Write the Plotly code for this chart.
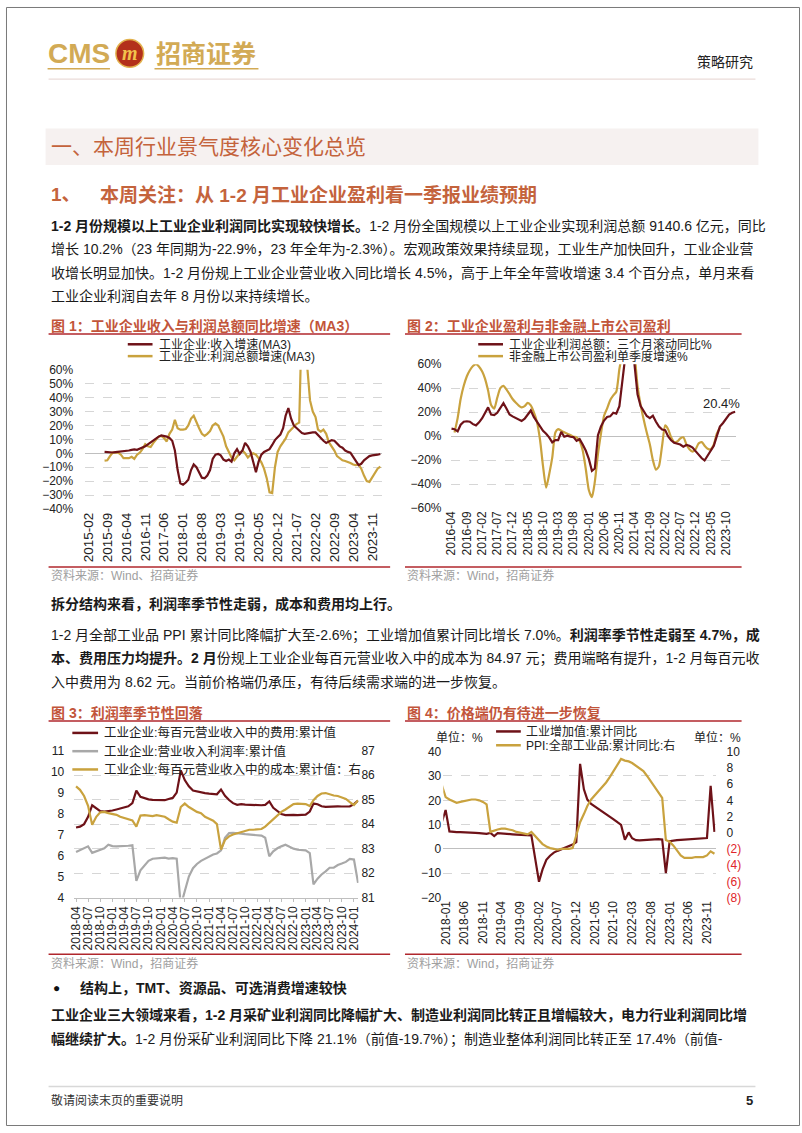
import pandas as pd
import plotly.graph_objects as go

W, H = 802, 1133
FONT = "Liberation Sans, Noto Sans CJK SC, sans-serif"
MAROON = "#6E1218"
GOLD = "#C9A23E"
GRAY = "#A8A8A8"
RED = "#B0272D"
TITLE_C = "#C2553A"
HEAD_C = "#C4633C"
LOGO_C = "#D2AA55"
TXT = "#1A1A1A"
GRID = "#D6D6D6"

def fx(x):
    return x / W

def fy(y):
    return 1 - y / H

# ---------------- data ----------------
# Chart 1: monthly from 2015-02
c1_start = "2015-02-01"
c1_revenue = [None] * 6 + [
    1.0, 0.8, 0.7, 0.6, 0.8, 1.0, 1.0, 1.2, 1.5, 2.0,
    2.5, 2.8, 2.5, 3.2, 4.0, 5.0, 6.5, 8.0, 9.5, 11.0,
    12.0, 12.8, 12.5, 12.0, 11.0, 9.0, 2.0, -12, -21.5, -22.5,
    -21, -19, -12, -8, -10, -14, -17.5, -18, -16, -12,
    -4, -1, -0.5, -1.5, -4.5, -5.5, -4.5, -6, 0, 3,
    -0.5, 2, 7.5, 5, 1, -6, -13.5, -6, -1, 1,
    2, 3, 6, 9.5, 11.5, 13.5, 18, 27, 32.5, 25,
    20, 18, 16, 14.5, 14, 14.5, 15, 15, 15, 13,
    11, 9, 7.5, 8.5, 9.5, 9, 7, 5, 4, 2,
    1, 0.5, -2.5, -5.5, -8.5, -7.5, -5, -3.5, -2, -1.5,
    -1.5, -1, -0.5]
c1_profit = [None] * 6 + [
    -5.2, -5, -2, 0.5, 0.7, 0.5, -1, -3.5, -3.5, -3.5,
    -2.5, -4, -1, 0.5, 3, 6.5, 5, 4.5, 7.5, 10,
    12, 12.5, 11, 8.5, 14, 17, 24, 18, 17, 17,
    17.5, 20, 25, 27, 22, 18, 14, 12.5, 14, 16,
    20, 21.5, 20, 16, 12, 5, 1, -3, -5, -2,
    0, 2, 0, -3, -1, 0, -1, -3.5, -6.5, -11,
    -18, -28, -28.5, -10, 1, 5, 8, 10.5, 15, 17,
    19, 21, 22, 100, 85, 60, 38, 30, 26, 17,
    15.5, 17, 14, 8, 5, 2, -2, -3.5, -5, -5.5,
    -6, -7, -8, -8.5, -8, -11, -16, -20, -20.5, -17,
    -13.5, -11, -9.5]

# Chart 2: monthly from 2016-04
c2_start = "2016-04-01"
c2_industrial = [
    6.3, 5.8, 4, 9.5, 12, 12.4, 12, 10, 9, 11.5,
    15, 19, 24, 18, 17.5, 19.5, 24, 27.5, 23, 18,
    16.5, 15, 14, 12.6, 14.5, 18, 21.4, 16, 11.8, 8,
    4.5, 2, -1, -5.2, -3.3, -3.3, 3.6, -0.5, 0.3, -0.5,
    -0.8, -4, -2.5, -7, -12, -19, -29, -27, 0.8, 8,
    13, 16, 16.5, 19.5, 18.7, 25, 45, 70, 90, 85,
    58, 35, 25, 21, 16.8, 15, 17, 12, 8, 5.5,
    5, 0, -3.5, -5.5, -6, -7, -8.8, -7.4, -8, -9.5,
    -12.5, -15.7, -18.5, -20.3, -16, -12, -8, 0, 8, 11,
    15, 18, 19.5, 20.4]
c2_listed = [
    None, 3, 15, 31, 42, 50, 55, 58.5, 60, 58,
    54, 48, 38, 26, 23, 32, 40, 42, 39, 35,
    31, 28, 25.5, 24, 25, 27.7, 25.6, 20, 12, -3,
    -25, -43, -32, -18, 3, 5.8, 4.5, 3.2, 2, 1,
    -0.5, -1, -4, -12, -27, -45, -51, -38, -15, 2,
    17, 23, 30, 34, 37, 56, 70, 90, 100, 95,
    70, 42, 26, 14, 3, -7, -20, -28, -25, -8,
    9, 6, -1, -5, -4.5, -2, -1, -7, -11, -13,
    -11, -6, -5, -8, -10.5, -11, -7, 2, 7]

# Chart 3: monthly from 2018-04
c3_start = "2018-04-01"
c3_expense = [
    7.34, 7.38, 7.5, 7.85, 8.4, 8.25, 8.12, 8.1, 8.12, 8.15,
    8.2, 8.25, 8.3, 8.35, 8.5, 9.1, 8.8, 8.72, 8.68, 8.66,
    8.65, 8.64, 8.64, 8.7, 8.75, 9.0, 10.06, 9.6, 9.3, 9.1,
    9.05, 9.02, 8.98, 8.95, 8.93, 8.92, 9.15, 8.85, 8.65, 8.5,
    8.42, 8.45, 8.43, 8.42, 8.4, 8.4, 8.4, 8.42, 8.58, 8.28,
    8.12, 7.98, 7.93, 7.95, 7.94, 7.93, 7.93, 7.95, 8.1, 8.48,
    8.45, 8.35, 8.32, 8.33, 8.36, 8.35, 8.34, 8.33, 8.35, 8.45,
    8.62]
c3_margin = [
    6.17, 6.25, 6.36, 6.44, 6.13, 6.2, 6.27, 6.35, 6.52, 6.45,
    6.44, 6.44, 6.44, 6.47, 6.49, 4.8, 5.3, 5.55, 5.75, 5.85,
    5.86, 5.87, 5.9, 5.86, 5.88, 5.85, 3.6, 4.3, 5.0, 5.4,
    5.6, 5.75, 5.85, 5.95, 6.05, 6.1, 6.25, 6.85, 7.07, 7.08,
    7.08, 7.05, 7.02, 7.0, 6.99, 6.99, 6.95, 6.85, 5.97, 6.2,
    6.35, 6.44, 6.52, 6.42, 6.33, 6.28, 6.25, 6.25, 6.12, 4.63,
    4.9, 5.1, 5.25, 5.42, 5.42, 5.55, 5.62, 5.7, 5.84, 5.81,
    4.7]
c3_cost = [
    85.54, 85.4, 85.15, 84.75, 83.97, 84.3, 84.48, 84.5, 84.45, 84.4,
    84.38, 84.3, 84.25, 84.2, 84.15, 83.9, 84.35, 84.37, 84.35, 84.33,
    84.37, 84.35, 84.3, 84.2, 84.1, 84.06, 84.7, 84.84, 84.7, 84.6,
    84.5, 84.45, 84.3, 84.22, 84.14, 84.0, 82.96, 83.35, 83.5, 83.58,
    83.63, 83.68, 83.72, 83.77, 83.77, 83.77, 83.8, 83.9, 84.05, 84.2,
    84.37, 84.5, 84.6, 84.71, 84.82, 84.84, 84.84, 84.82, 84.74, 84.98,
    85.15, 85.25, 85.27, 85.22, 85.17, 85.15, 85.08, 85.03, 84.9, 84.78,
    84.97]

# Chart 4: monthly from 2017-12
c4_start = "2017-12-01"
c4_iva = [
    11, 16, 7.2, 7.0, 6.9, 6.9, 6.9, 6.8, 6.7, 6.6,
    6.5, 6.5, 6.2, 6.6, 5.3, 6.5, 6.3, 6.2, 6.1, 6.0,
    5.9, 5.8, 5.7, 5.7, 5.6, -4, -13.5, -8.4, -4.5, -2.8,
    -1.5, -0.8, -0.2, 0.4, 1.0, 1.8, 2.8, 35, 24.5, 20.3,
    18.5, 17.5, 16.3, 15.3, 14.3, 13.3, 12.2, 11.0, 9.9, 3.8,
    6.8, 4.4, 3.6, 3.5, 3.6, 3.8, 4.0, 4.2, 4.0, 3.9,
    -10, 3.2, 3.5, 3.6, 3.7, 3.8, 3.9, 4.0, 4.1, 4.2,
    4.3, 4.5, 26, 7.0]
c4_ppi = [
    5.9, 4.4, 4.1, 3.9, 3.7, 3.8, 3.9, 4.0, 4.1, 4.1,
    4.0, 3.8, 3.5, 0.1, 0.3, 0.4, 0.5, 0.5, 0.4, 0.3,
    0.1, 0.0, -0.1, -0.2, 0.1, -0.4, -0.8, -1.4, -1.7, -1.9,
    -2.0, -2.1, -2.0, -2.0, -2.0, -1.9, -0.4, 1.3, 2.3, 3.3,
    4.1, 4.6, 5.1, 5.6, 6.2, 6.9, 7.6, 8.3, 9.1, 8.9,
    8.8, 8.6, 8.3, 8.0, 7.6, 7.0, 6.3, 5.6, 5.0, 4.3,
    -0.9, -1.1, -1.6, -2.2, -2.8, -3.1, -3.1, -3.1, -3.0, -3.0,
    -3.0, -2.8, -2.3, -2.6]
c4_right_ticks = [-8, -6, -4, -2, 0, 2, 4, 6, 8, 10]


def dates(start, values):
    return pd.date_range(start, periods=len(values), freq="MS")


fig = go.Figure()

def line(x, y, xa, ya, color, width=2.2, shape="linear"):
    fig.add_trace(go.Scatter(x=x, y=y, xaxis=xa, yaxis=ya, mode="lines",
                             line=dict(color=color, width=width, shape=shape,
                                       smoothing=0.6 if shape == "spline" else None),
                             showlegend=False, hoverinfo="skip"))

line(dates(c1_start, c1_profit), c1_profit, "x", "y", GOLD)
line(dates(c1_start, c1_revenue), c1_revenue, "x", "y", MAROON)
line(dates(c2_start, c2_listed), c2_listed, "x2", "y2", GOLD, shape="spline")
line(dates(c2_start, c2_industrial), c2_industrial, "x2", "y2", MAROON)
line(dates(c3_start, c3_margin), c3_margin, "x3", "y3", GRAY)
line(dates(c3_start, c3_cost), c3_cost, "x3", "y4", GOLD)
line(dates(c3_start, c3_expense), c3_expense, "x3", "y3", MAROON)
line(dates(c4_start, c4_ppi), c4_ppi, "x4", "y6", GOLD)
line(dates(c4_start, c4_iva), c4_iva, "x4", "y5", MAROON)

TF = dict(family=FONT, size=12, color="#222")

def xax(d0, d1, r0, r1, tick0, dtick, anchor, **kw):
    a = dict(domain=[fx(d0), fx(d1)], anchor=anchor, type="date", range=[r0, r1],
             tick0=tick0, dtick=dtick, tickformat="%Y-%m", tickangle=-90,
             tickfont=TF, showgrid=False, zeroline=False, showline=False, ticks="")
    a.update(kw)
    return a

def yax(top, bot, rng, dtick, anchor, **kw):
    a = dict(domain=[fy(bot), fy(top)], anchor=anchor, range=rng, dtick=dtick,
             tickfont=TF, showgrid=True, gridcolor=GRID, griddash="dash", gridwidth=1,
             zeroline=False, showline=False, ticks="")
    a.update(kw)
    return a

layout = dict(
    width=W, height=H, autosize=False,
    margin=dict(l=0, r=0, t=0, b=0),
    paper_bgcolor="white", plot_bgcolor="white",
    font=dict(family=FONT, color=TXT),
    xaxis=xax(80, 380, "2014-12-26", "2024-02-22", "2015-02-01", "M7", "y",
              tickfont=dict(family=FONT, size=13.5, color="#222")),
    yaxis=yax(367.3, 508.3, [-40, 60], 10, "x", ticksuffix="%",
              zeroline=True, zerolinecolor="#BFBFBF", zerolinewidth=1.2,
              ticklabelstandoff=11),
    xaxis2=xax(449, 737, "2016-03-22", "2024-01-05", "2016-04-01", "M5", "y2"),
    yaxis2=yax(361.7, 507.3, [-60, 60], 20, "x2", ticksuffix="%",
               zeroline=True, zerolinecolor="#BFBFBF", zerolinewidth=1.2,
               ticklabelstandoff=8),
    xaxis3=xax(69, 356, "2018-03-19", "2024-02-04", "2018-04-01", "M3", "y3",
               showline=True, linecolor="#BFBFBF", ticks="outside", ticklen=3,
               tickcolor="#BFBFBF"),
    yaxis3=yax(753, 901.7, [4, 11], 1, "x3", showgrid=False, ticklabelstandoff=9),
    yaxis4=yax(753, 901.7, [81, 87], 1, "x3", overlaying="y3", side="right",
               ticklabelstandoff=2),
    xaxis4=xax(441.7, 716.7, "2017-12-13", "2024-01-10", "2018-01-01", "M5", "y5"),
    yaxis5=yax(754, 901.7, [-20, 40], 10, "x4",
               zeroline=True, zerolinecolor="#BFBFBF", zerolinewidth=1.2,
               ticklabelstandoff=1),
    yaxis6=yax(754, 901.7, [-8, 10], None, "x4", overlaying="y5", side="right",
               showgrid=False, tickmode="array", tickvals=c4_right_ticks,
               ticktext=[("<span style='color:#E0262B'>(%d)</span>" % -v) if v < 0 else str(v)
                         for v in c4_right_ticks],
               ticklabelstandoff=10),
)
fig.update_layout(**layout)

shapes = []
annots = []

def hline(x0, x1, y, color, width=1, dash="solid"):
    shapes.append(dict(type="line", xref="paper", yref="paper", x0=fx(x0), x1=fx(x1),
                       y0=fy(y), y1=fy(y), line=dict(color=color, width=width, dash=dash)))

def rect(x0, y0, x1, y1, fill, lc=None, lw=0):
    shapes.append(dict(type="rect", xref="paper", yref="paper", x0=fx(x0), x1=fx(x1),
                       y0=fy(y1), y1=fy(y0), fillcolor=fill, layer="below",
                       line=dict(color=lc or fill, width=lw)))

def text(x, y, s, size=14, color=TXT, anchor="left", family=FONT, vanchor="middle"):
    annots.append(dict(x=fx(x), y=fy(y), xref="paper", yref="paper", text=s,
                       showarrow=False, xanchor=anchor, yanchor=vanchor,
                       font=dict(size=size, color=color, family=family)))

# page border
rect(0.5, 0.5, 801.5, 1132.5, "rgba(0,0,0,0)", "#7A7A7A", 1)

# header / logo
text(40, 47, "<b>CMS</b>", 28, LOGO_C, family="Liberation Sans")
shapes.append(dict(type="circle", xref="paper", yref="paper", x0=fx(111), x1=fx(139),
                   y0=fy(61), y1=fy(33), fillcolor="#B3301B",
                   line=dict(color="#E2B24E", width=1.5)))
text(125, 47, "<b><i>m</i></b>", 20, "#F1C24C", anchor="center", family="Liberation Serif")
text(149, 46, "<b>招商证券</b>", 25, LOGO_C, family="Noto Sans CJK SC")
hline(42, 105, 62.5, LOGO_C, 1.5)
hline(150, 255, 62.5, LOGO_C, 1.5)
text(757, 56, "策略研究", 14, "#222", anchor="right")
hline(43, 757, 73, "#E5D2CE", 1)

# section heading band
rect(40, 123, 760, 160, "#F6F1F0")
text(43, 141.5, "一、本周行业景气度核心变化总览", 21, HEAD_C)
text(43, 190, "<b>1、</b>", 19, HEAD_C)
text(93, 190, "<b>本周关注：从 1-2 月工业企业盈利看一季报业绩预期</b>", 19, HEAD_C)

# paragraph 1
p1 = [
    "<b>1-2 月份规模以上工业企业利润同比实现较快增长。</b>1-2 月份全国规模以上工业企业实现利润总额 9140.6 亿元，同比",
    "增长 10.2%（23 年同期为-22.9%，23 年全年为-2.3%）。宏观政策效果持续显现，工业生产加快回升，工业企业营",
    "收增长明显加快。1-2 月份规上工业企业营业收入同比增长 4.5%，高于上年全年营收增速 3.4 个百分点，单月来看",
    "工业企业利润自去年 8 月份以来持续增长。",
]
for i, s in enumerate(p1):
    text(43, 222 + i * 23.5, s, 14)

# chart titles, rules, sources
def chart_frame(x0, x1, ty, title, sy, source):
    text(x0, ty, "<b>" + title + "</b>", 14, TITLE_C)
    hline(x0, x1, ty + 8.5, RED, 1.5)
    hline(x0, x1, sy, RED, 1.5)
    text(x0, sy + 9, source, 12, "#A0A0A0")

chart_frame(43, 388, 322.5, "图 1：工业企业收入与利润总额同比增速（MA3）", 567, "资料来源：Wind、招商证券")
chart_frame(403, 743, 322.5, "图 2：工业企业盈利与非金融上市公司盈利", 567, "资料来源：Wind，招商证券")
chart_frame(43, 388, 714.5, "图 3：利润率季节性回落", 959, "资料来源：Wind，招商证券")
chart_frame(403, 743, 714.5, "图 4：价格端仍有待进一步恢复", 959, "资料来源：Wind，招商证券")

# legends
def legend_item(x0, x1, y, color, label, tx, size=12):
    hline(x0, x1, y, color, 2.5)
    text(tx, y, label, size, "#222")

legend_item(123, 148, 341.5, MAROON, "工业企业:收入增速(MA3)", 153)
legend_item(123, 148, 353.5, GOLD, "工业企业:利润总额增速(MA3)", 153)
legend_item(477, 502, 341.5, MAROON, "工业企业利润总额：三个月滚动同比%", 506)
legend_item(477, 502, 353.5, GOLD, "非金融上市公司盈利单季度增速%", 506)
legend_item(67, 93, 735, MAROON, "工业企业:每百元营业收入中的费用:累计值", 97, 12.5)
legend_item(67, 93, 753.5, GRAY, "工业企业:营业收入利润率:累计值", 97, 12.5)
legend_item(67, 93, 772, GOLD, "工业企业:每百元营业收入中的成本:累计值：右", 97, 12.5)
legend_item(495, 520, 733.5, MAROON, "工业增加值:累计同比", 523)
legend_item(495, 520, 747.5, GOLD, "PPI:全部工业品:累计同比:右", 523)
text(432, 740, "单位：%", 12, "#222")
text(693, 740, "单位：%", 12, "#222")
text(723, 401, "20.4%", 13, "#222", anchor="center")

# paragraph 2
text(43, 604, "<b>拆分结构来看，利润率季节性走弱，成本和费用均上行。</b>", 14)
p2 = [
    "1-2 月全部工业品 PPI 累计同比降幅扩大至-2.6%；工业增加值累计同比增长 7.0%。<b>利润率季节性走弱至 4.7%，成</b>",
    "<b>本、费用压力均提升。2 月</b>份规上工业企业每百元营业收入中的成本为 84.97 元；费用端略有提升，1-2 月每百元收",
    "入中费用为 8.62 元。当前价格端仍承压，有待后续需求端的进一步恢复。",
]
for i, s in enumerate(p2):
    text(43, 636 + i * 23.5, s, 14)

# bottom section
text(45, 993, "●", 12, "#111")
text(73, 993, "<b>结构上，TMT、资源品、可选消费增速较快</b>", 14)
text(43, 1021, "<b>工业企业三大领域来看，1-2 月采矿业利润同比降幅扩大、制造业利润同比转正且增幅较大，电力行业利润同比增</b>", 14)
text(43, 1045, "<b>幅继续扩大。</b>1-2 月份采矿业利润同比下降 21.1%（前值-19.7%）；制造业整体利润同比转正至 17.4%（前值-", 14)

# footer
hline(43, 757, 1093, "#D8D8D8", 1.5)
text(43, 1107, "敬请阅读末页的重要说明", 12, "#333")
text(757, 1107, "<b>5</b>", 13, "#222", anchor="right")

fig.update_layout(shapes=shapes, annotations=annots)
fig.write_html("out.html", config={"displayModeBar": False},
               post_script="document.body.style.margin='0';document.body.style.padding='0';")
